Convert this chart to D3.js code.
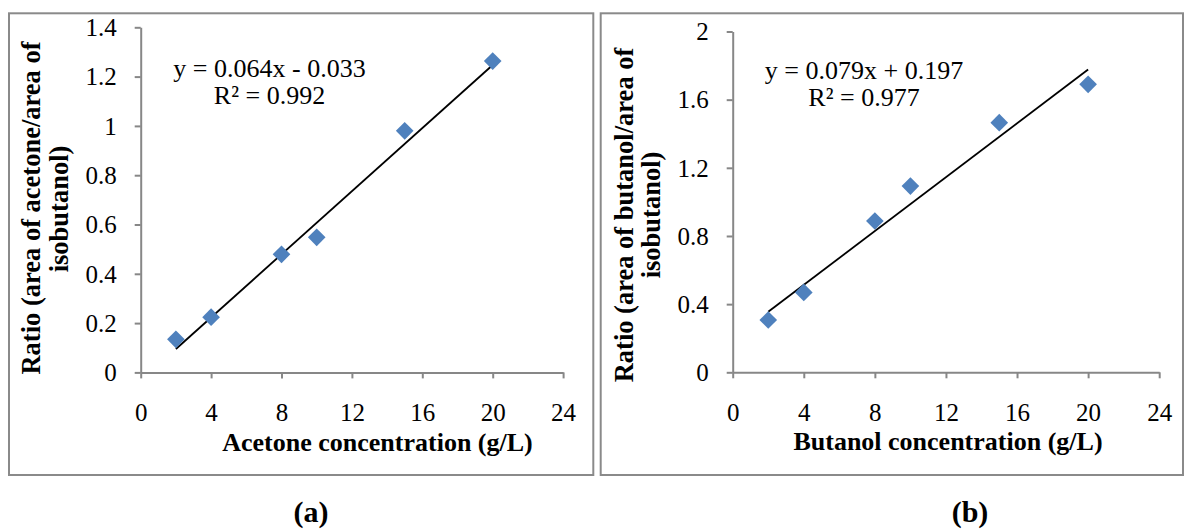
<!DOCTYPE html>
<html>
<head>
<meta charset="utf-8">
<script src="https://cdn.jsdelivr.net/npm/d3@7/dist/d3.min.js"></script>
<style>
  html, body { margin: 0; padding: 0; background: #fff; }
  svg { display: block; }
  text { font-family: "Liberation Serif", "Times New Roman", Times, serif; fill: #000; }
</style>
</head>
<body>
<svg id="chart" width="1185" height="531"></svg>
<script>
// Calibration data: concentration (g/L) vs. peak-area ratio to isobutanol
const concentration = [2, 4, 8, 10, 15, 20];
const acetoneRatio = [0.134, 0.224, 0.479, 0.548, 0.980, 1.263];
const butanolRatio = [0.307, 0.469, 0.888, 1.093, 1.465, 1.690];

// Linear fits as reported on each chart
const acetoneFit = { slope: 0.064, intercept: -0.033, r2: 0.992 };
const butanolFit = { slope: 0.079, intercept: 0.197, r2: 0.977 };

// Axis ticks
const xTicks = [0, 4, 8, 12, 16, 20, 24];
const acetoneYTicks = [0, 0.2, 0.4, 0.6, 0.8, 1, 1.2, 1.4];
const butanolYTicks = [0, 0.4, 0.8, 1.2, 1.6, 2];

// Text
const acetoneXTitle = "Acetone concentration (g/L)";
const butanolXTitle = "Butanol concentration (g/L)";
const acetoneYTitle = ["Ratio (area of acetone/area of", "isobutanol)"];
const butanolYTitle = ["Ratio (area of butanol/area of", "isobutanol)"];
const panelLabels = ["(a)", "(b)"];

const svg = d3.select("#chart");
const AXIS_COLOR = "#878787";
const BORDER_COLOR = "#8a8a8a";
const MARKER_COLOR = "#4f81bd";

function fmtEq(fit) {
  const sign = fit.intercept < 0 ? "-" : "+";
  return `y = ${fit.slope.toFixed(3)}x ${sign} ${Math.abs(fit.intercept).toFixed(3)}`;
}

function drawPanel(cfg) {
  const g = svg.append("g");

  // panel frame
  g.append("rect")
    .attr("x", cfg.frame[0]).attr("y", cfg.frame[1])
    .attr("width", cfg.frame[2]).attr("height", cfg.frame[3])
    .attr("fill", "none").attr("stroke", BORDER_COLOR).attr("stroke-width", 2);

  const x = d3.scaleLinear().domain([0, 24]).range(cfg.xRange);
  const y = d3.scaleLinear().domain([0, cfg.yMax]).range(cfg.yRange);

  // x axis
  const xAxis = g.append("g")
    .attr("transform", `translate(0,${cfg.yRange[0]})`)
    .call(d3.axisBottom(x).tickValues(xTicks).tickSize(6).tickSizeOuter(0)
      .tickFormat(d3.format("d")));
  // y axis
  const yAxis = g.append("g")
    .attr("transform", `translate(${cfg.xRange[0]},0)`)
    .call(d3.axisLeft(y).tickValues(cfg.yTicks).tickSize(6).tickSizeOuter(0)
      .tickFormat(d => String(+d.toFixed(1))));

  [xAxis, yAxis].forEach(a => {
    a.select(".domain").attr("stroke", AXIS_COLOR).attr("stroke-width", 2);
    a.selectAll(".tick line").attr("stroke", AXIS_COLOR).attr("stroke-width", 2);
    a.selectAll(".tick text")
      .style("font-family", '"Liberation Serif", "Times New Roman", serif')
      .attr("font-size", 25).attr("fill", "#000");
  });
  xAxis.selectAll(".tick text").attr("y", 49).attr("dy", 0);
  yAxis.selectAll(".tick text").attr("x", -24).attr("dy", "0.33em");

  // trendline from the reported fit
  const xs = [d3.min(concentration), d3.max(concentration)];
  g.append("path")
    .datum(xs)
    .attr("fill", "none").attr("stroke", "#000").attr("stroke-width", 1.8)
    .attr("d", d3.line().x(d => x(d)).y(d => y(cfg.fit.slope * d + cfg.fit.intercept)));

  // diamond markers
  const diamond = d3.symbol().type(d3.symbolSquare).size(156);
  g.selectAll("path.pt")
    .data(concentration.map((c, i) => [c, cfg.values[i]]))
    .join("path")
    .attr("class", "pt")
    .attr("d", diamond)
    .attr("transform", d => `translate(${x(d[0])},${y(d[1])}) rotate(45)`)
    .attr("fill", MARKER_COLOR);

  // fit equation
  const eq = g.append("text").attr("text-anchor", "middle").attr("font-size", 26);
  eq.append("tspan").attr("x", cfg.eqPos[0]).attr("y", cfg.eqPos[1]).text(fmtEq(cfg.fit));
  eq.append("tspan").attr("x", cfg.eqPos[0]).attr("y", cfg.eqPos[1] + 27)
    .text(`R² = ${cfg.fit.r2.toFixed(3)}`);

  // x title
  g.append("text")
    .attr("x", cfg.xTitlePos[0]).attr("y", cfg.xTitlePos[1])
    .attr("text-anchor", "middle").attr("font-size", 26).attr("font-weight", "bold")
    .text(cfg.xTitle);

  // y title (two lines, rotated)
  cfg.yTitle.forEach((line, i) => {
    g.append("text")
      .attr("transform", `translate(${cfg.yTitlePos[i][0]},${cfg.yTitlePos[i][1]}) rotate(-90)`)
      .attr("text-anchor", "middle").attr("font-size", 26.5).attr("font-weight", "bold")
      .text(line);
  });

  // panel label
  g.append("text")
    .attr("x", cfg.labelPos[0]).attr("y", cfg.labelPos[1])
    .attr("text-anchor", "middle").attr("font-size", 30).attr("font-weight", "bold")
    .text(cfg.label);
}

drawPanel({
  frame: [9, 13.3, 584.3, 461.7],
  xRange: [140.7, 563.1],
  yRange: [372.4, 27.3],
  yMax: 1.4,
  yTicks: acetoneYTicks,
  values: acetoneRatio,
  fit: acetoneFit,
  eqPos: [269.5, 77.3],
  xTitle: acetoneXTitle,
  xTitlePos: [377.5, 450.5],
  yTitle: acetoneYTitle,
  yTitlePos: [[40, 208], [67.5, 209]],
  label: panelLabels[0],
  labelPos: [311, 522]
});

drawPanel({
  frame: [600.7, 13.3, 582.3, 461.7],
  xRange: [732.7, 1159.2],
  yRange: [372.3, 31.5],
  yMax: 2,
  yTicks: butanolYTicks,
  values: butanolRatio,
  fit: butanolFit,
  eqPos: [864, 79],
  xTitle: butanolXTitle,
  xTitlePos: [948, 449.5],
  yTitle: butanolYTitle,
  yTitlePos: [[632.5, 215], [660, 215]],
  label: panelLabels[1],
  labelPos: [970, 522]
});
</script>
</body>
</html>
